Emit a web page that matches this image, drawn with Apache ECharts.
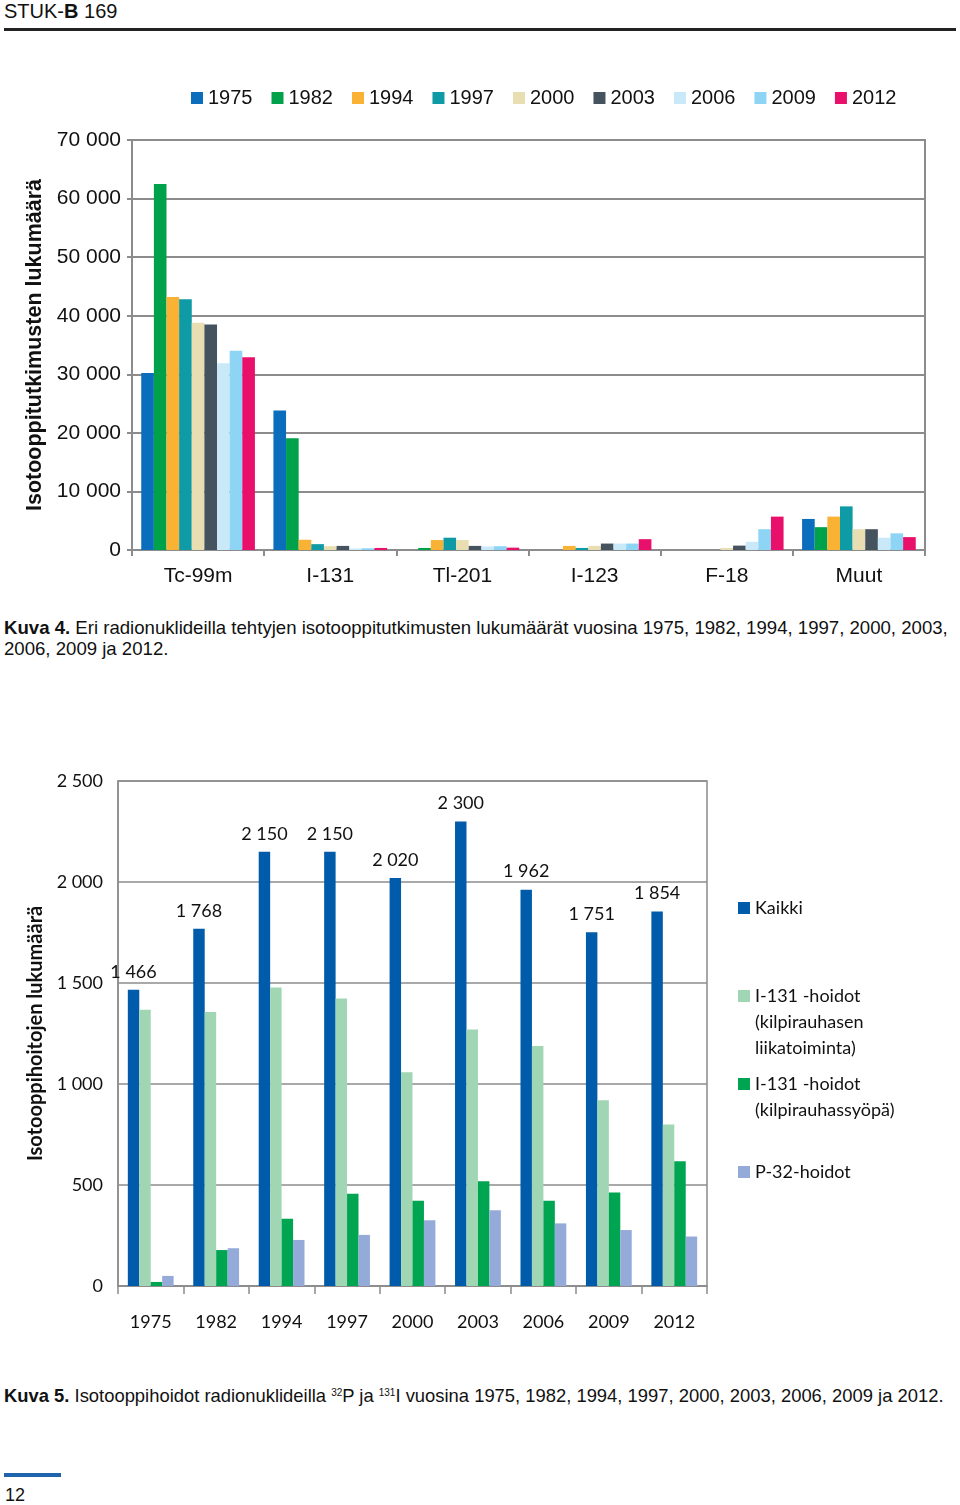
<!DOCTYPE html>
<html>
<head>
<meta charset="utf-8">
<script src="https://cdn.jsdelivr.net/npm/echarts@6/dist/echarts.min.js"></script>
<style>
  html, body { margin: 0; padding: 0; background: #fff; }
  body { width: 960px; height: 1505px; position: relative; overflow: hidden; font-family: "Liberation Sans", Arial, sans-serif; color: #111; }
  .hdr { position: absolute; left: 4px; top: 0px; font-size: 20px; line-height: 22px; }
  .hdrline { position: absolute; left: 4px; top: 28px; width: 952px; height: 3px; background: #222; }
  .cap { position: absolute; left: 4px; font-family: "Liberation Sans", Arial, sans-serif; font-size: 18.6px; line-height: 21px; white-space: nowrap; color: #111; }
  .cap sup { font-size: 10px; vertical-align: 6px; line-height: 0; }
  #c1 { position: absolute; left: 0; top: 40px; width: 960px; height: 570px; }
  #c2 { position: absolute; left: 0; top: 740px; width: 960px; height: 620px; }
  .foot { position: absolute; left: 4px; top: 1473px; width: 57px; height: 4px; background: #1f64ad; }
  .pg { position: absolute; left: 5px; top: 1484px; font-size: 18px; line-height: 22px; }
</style>
</head>
<body>
<div class="hdr">STUK-<b>B</b> 169</div>
<div class="hdrline"></div>
<div id="c1"></div>
<div class="cap" style="top:617px"><b>Kuva 4.</b> Eri radionuklideilla tehtyjen isotooppitutkimusten lukumäärät vuosina 1975, 1982, 1994, 1997, 2000, 2003,<br>2006, 2009 ja 2012.</div>
<div id="c2"></div>
<div class="cap" style="top:1385px; font-size:18.4px"><b>Kuva 5.</b> Isotooppihoidot radionuklideilla <sup>32</sup>P ja <sup>131</sup>I vuosina 1975, 1982, 1994, 1997, 2000, 2003, 2006, 2009 ja 2012.</div>
<div class="foot"></div>
<div class="pg">12</div>
<script>
// ---------- Chart 1 data ----------
const nuclides = ['Tc-99m', 'I-131', 'Tl-201', 'I-123', 'F-18', 'Muut'];
const studyYears = ['1975', '1982', '1994', '1997', '2000', '2003', '2006', '2009', '2012'];
const v1975 = [30200, 23800, 0, 0, 0, 5300];
const v1982 = [62500, 19100, 350, 0, 0, 3900];
const v1994 = [43200, 1750, 1700, 700, 0, 5700];
const v1997 = [42800, 1000, 2100, 350, 0, 7450];
const v2000 = [38800, 650, 1700, 700, 350, 3550];
const v2003 = [38500, 700, 700, 1100, 750, 3550];
const v2006 = [31900, 250, 600, 1100, 1400, 2100];
const v2009 = [34000, 300, 650, 1100, 3550, 2850];
const v2012 = [32900, 350, 400, 1850, 5700, 2200];
const studyTicks = [0, 10000, 20000, 30000, 40000, 50000, 60000, 70000];

// ---------- Chart 2 data ----------
const treatYears = ['1975', '1982', '1994', '1997', '2000', '2003', '2006', '2009', '2012'];
const kaikki = [1466, 1768, 2150, 2150, 2020, 2300, 1962, 1751, 1854];
const liikatoiminta = [1367, 1357, 1478, 1423, 1058, 1270, 1188, 920, 800];
const syopa = [20, 178, 333, 457, 422, 518, 422, 463, 617];
const p32 = [50, 187, 228, 253, 325, 375, 310, 277, 245];
const treatTicks = [0, 500, 1000, 1500, 2000, 2500];
const treatNames = ['Kaikki', 'I-131 -hoidot (kilpirauhasen liikatoiminta)', 'I-131 -hoidot (kilpirauhassyöpä)', 'P-32-hoidot'];
const treatLegendLines = [['Kaikki'], ['I-131 -hoidot', '(kilpirauhasen', 'liikatoiminta)'], ['I-131 -hoidot', '(kilpirauhassyöpä)'], ['P-32-hoidot']];

function fmt(v) { return String(v).replace(/\B(?=(\d{3})+(?!\d))/g, ' '); }

// ---------- Chart 1 ----------
const c1colors = ['#0A6EBD', '#00A14B', '#F9B233', '#0E9BA6', '#E9DEB2', '#45535F', '#C9E8F8', '#8ED5F5', '#E8106B'];
const c1values = [v1975, v1982, v1994, v1997, v2000, v2003, v2006, v2009, v2012];
const font1 = 'Liberation Sans';
const chart1 = echarts.init(document.getElementById('c1'), null, { renderer: 'canvas' });
chart1.setOption({
  animation: false,
  color: c1colors,
  legend: {
    left: 186, top: 43, itemWidth: 12, itemHeight: 12, itemGap: 19,
    icon: 'rect',
    textStyle: { fontFamily: font1, fontSize: 20, color: '#111' },
    data: studyYears
  },
  grid: { left: 132, top: 100, width: 793, height: 410, show: true, borderColor: '#8c8c8c', borderWidth: 2 },
  xAxis: {
    type: 'category', data: nuclides,
    axisLine: { lineStyle: { color: '#8c8c8c', width: 2 } },
    axisTick: { show: true, length: 6, lineStyle: { color: '#8c8c8c', width: 2 } },
    axisLabel: { fontFamily: font1, fontSize: 21, color: '#111', margin: 16 }
  },
  yAxis: {
    type: 'value', min: studyTicks[0], max: studyTicks[studyTicks.length - 1], interval: 10000,
    name: 'Isotooppitutkimusten lukumäärä', nameLocation: 'middle', nameGap: 85, nameRotate: 90,
    nameTextStyle: { fontFamily: font1, fontSize: 21.5, fontWeight: 'bold', color: '#111' },
    axisLine: { show: true, lineStyle: { color: '#8c8c8c', width: 2 } },
    axisTick: { show: true, length: 5, lineStyle: { color: '#8c8c8c', width: 2 } },
    axisLabel: { fontFamily: font1, fontSize: 21, color: '#111', margin: 11, formatter: fmt },
    splitLine: { lineStyle: { color: '#8c8c8c', width: 2 } }
  },
  series: studyYears.map((y, i) => ({
    name: y, type: 'bar', data: c1values[i],
    barGap: '0%', barCategoryGap: '14%'
  }))
});

// ---------- Chart 2 ----------
const c2colors = ['#005BAA', '#A0D6B4', '#00A551', '#94ABDA'];
const c2values = [kaikki, liikatoiminta, syopa, p32];
const font2 = 'Lato';
const legendIconY = [908, 996, 1084, 1172];
function legendText(i) {
  const lines = treatLegendLines[i];
  // leading blank lines keep the first line level with the icon
  return '\n'.repeat(lines.length - 1) + lines.join('\n');
}
const chart2 = echarts.init(document.getElementById('c2'), null, { renderer: 'canvas' });
chart2.setOption({
  animation: false,
  color: c2colors,
  legend: treatNames.map((n, i) => ({
    left: 738, top: legendIconY[i] - 740 - 13 * (2 * treatLegendLines[i].length - 1),
    itemWidth: 12, itemHeight: 12, icon: 'rect', padding: 0,
    data: [n],
    formatter: () => legendText(i),
    textStyle: { fontFamily: font2, fontSize: 18, lineHeight: 26, color: '#111' }
  })),
  grid: { left: 118, top: 41, width: 589, height: 505, show: true, borderColor: '#8c8c8c', borderWidth: 1.5 },
  xAxis: {
    type: 'category', data: treatYears,
    axisLine: { lineStyle: { color: '#8c8c8c', width: 1.5 } },
    axisTick: { show: true, length: 8, lineStyle: { color: '#8c8c8c', width: 1.5 } },
    axisLabel: { fontFamily: font2, fontSize: 18, color: '#111', margin: 27 }
  },
  yAxis: {
    type: 'value', min: treatTicks[0], max: treatTicks[treatTicks.length - 1], interval: 500,
    name: 'Isotooppihoitojen lukumäärä', nameLocation: 'middle', nameGap: 70, nameRotate: 90,
    nameTextStyle: { fontFamily: font2, fontSize: 20, fontWeight: 'bold', color: '#111' },
    axisLine: { show: true, lineStyle: { color: '#8c8c8c', width: 1.5 } },
    axisTick: { show: false },
    axisLabel: { fontFamily: font2, fontSize: 18, color: '#111', margin: 15, formatter: fmt },
    splitLine: { lineStyle: { color: '#8c8c8c', width: 1.5 } }
  },
  series: treatNames.map((n, i) => ({
    name: n, type: 'bar', data: c2values[i],
    barGap: '0%', barCategoryGap: '30%',
    label: i === 0 ? { show: true, position: 'top', distance: 9, fontFamily: font2, fontSize: 18, color: '#111', formatter: p => fmt(p.value) } : { show: false }
  }))
});
</script>
</body>
</html>
